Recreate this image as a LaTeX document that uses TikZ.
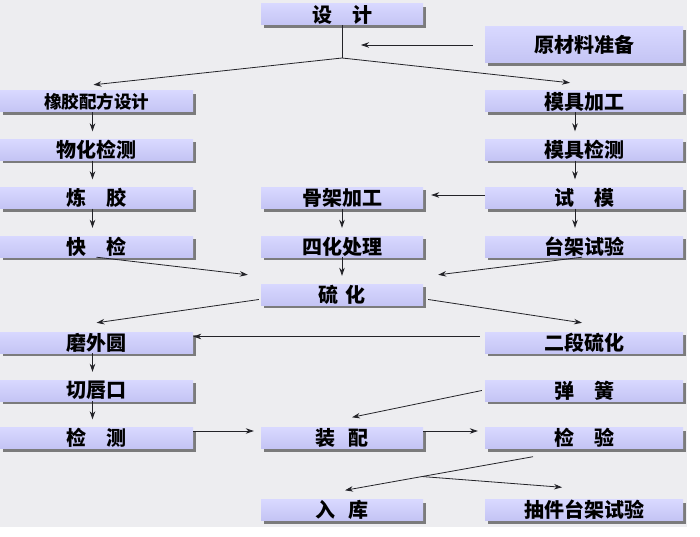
\documentclass[tikz,border=0pt]{standalone}
\usepackage{fontspec}
\newfontfamily\cjk{Noto Sans CJK SC}
\usetikzlibrary{shadows,calc,arrows.meta}
\definecolor{bgcol}{RGB}{237,237,240}
\definecolor{boxtop}{RGB}{216,216,255}
\definecolor{boxbot}{RGB}{196,196,244}
\definecolor{linecol}{RGB}{35,35,40}
\tikzset{
  flowbox/.style={top color=boxtop, bottom color=boxbot, minimum height=21pt, inner sep=0pt,
    font=\cjk\bfseries\fontsize{20}{20}\selectfont,
    drop shadow={shadow xshift=3pt, shadow yshift=-3pt, fill=black!70, opacity=0.7}},
  colL/.style={flowbox, minimum width=193pt},
  colM/.style={flowbox, minimum width=162pt},
  colR/.style={flowbox, minimum width=198pt},
  link/.style={draw=linecol, line width=0.8pt, ->},
}
\begin{document}
\begin{tikzpicture}[x=1pt, y=-1pt, >={Stealth[length=8pt,width=5.5pt]}]
\useasboundingbox (0,0) rectangle (700,537);
\fill[white] (0,0) rectangle (700,537);
\fill[bgcol] (0,0) rectangle (687,527);
% boxes
\node[colM] (design) at (342,14.5) {设\quad 计};
\node[colR, minimum height=36pt] (raw) at (584,45) {原材料准备};
\node[colL] (formula) at (96.5,101.5) {\fontsize{17.5}{17.5}\selectfont 橡胶配方设计};
\node[colR] (mould) at (584,101.5) {模具加工};
\node[colL] (phys) at (96.5,150) {物化检测};
\node[colR] (mcheck) at (584,150) {模具检测};
\node[colL] (mix) at (96.5,198) {炼\quad 胶};
\node[colM] (frame) at (342,198) {骨架加工};
\node[colR] (trial) at (584,198) {试\quad 模};
\node[colL] (quick) at (96.5,246.5) {快\quad 检};
\node[colM] (treat) at (342,246.5) {四化处理};
\node[colR] (bench) at (584,246.5) {台架试验};
\node[colM] (cure) at (342,294.5) {硫\hspace{0.35em}化};
\node[colL] (grind) at (96.5,342.5) {磨外圆};
\node[colR] (second) at (584,342.5) {二段硫化};
\node[colL] (lip) at (96.5,390.5) {切唇口};
\node[colR] (spring) at (584,390.5) {弹\quad 簧};
\node[colL] (test) at (96.5,438) {检\quad 测};
\node[colM] (assy) at (342,438) {装\hspace{0.7em}配};
\node[colR] (insp) at (584,438) {检\quad 验};
\node[colM] (store) at (342,510) {入\hspace{0.7em}库};
\node[colR] (sample) at (584,510) {抽件台架试验};
% top fork
\coordinate (fork) at (342,58);
\coordinate (rawtip) at (361,45);
\draw[link] ([xshift=-12pt]raw.west) -- (rawtip);
\draw[link,-] (design.south) -- (fork);
\draw[link] (fork) -- ([shift={(-3pt,6pt)}]formula.north);
\draw[link] (fork) -- ([shift={(-14pt,8pt)}]mould.north);
% columns
\foreach \a/\b in {formula/phys, phys/mix, mix/quick, grind/lip, lip/test}
  \draw[link, shorten >=8pt] ([xshift=-4pt]\a.south) -- ([xshift=-4pt]\b.north);
\foreach \a/\b in {mould/mcheck, mcheck/trial, trial/bench}
  \draw[link, shorten >=8pt] ([xshift=-9pt]\a.south) -- ([xshift=-9pt]\b.north);
\draw[link, shorten >=8pt] (frame.south) -- (treat.north);
\draw[link, shorten >=8pt] (treat.south) -- (cure.north);
\draw[link, shorten >=8pt] ([yshift=3pt]trial.west) -- ([yshift=3pt]frame.east);
% into and out of curing
\draw[link] (quick.south) -- ([shift={(-13pt,9pt)}]cure.north west);
\draw[link] ([xshift=-2pt]bench.south) -- ([shift={(15pt,9pt)}]cure.north east);
\draw[link] ([shift={(-2pt,-5pt)}]cure.west) -- ([yshift=9pt]grind.north);
\draw[link] ([shift={(5pt,-5pt)}]cure.east) -- ([shift={(-2pt,9pt)}]second.north);
\draw[link] ([shift={(-5pt,6pt)}]second.west) -- ([yshift=6pt]grind.east);
% assembly
\draw[link] ([xshift=-3pt]spring.west) -- ([shift={(10pt,10pt)}]assy.north);
\draw[link, shorten >=7pt] ([yshift=7pt]test.east) -- ([yshift=7pt]assy.west);
\draw[link, shorten >=7pt] ([yshift=7pt]assy.east) -- ([yshift=7pt]insp.west);
\coordinate (inspout) at ([shift={(-51pt,-8pt)}]insp.south);
\coordinate (storetip) at ([shift={(3pt,9pt)}]store.north);
\draw[link] (inspout) -- (storetip);
\draw[link] ($(inspout)!0.59!(storetip)$) -- ([shift={(-22pt,12pt)}]sample.north);
\end{tikzpicture}
\end{document}
